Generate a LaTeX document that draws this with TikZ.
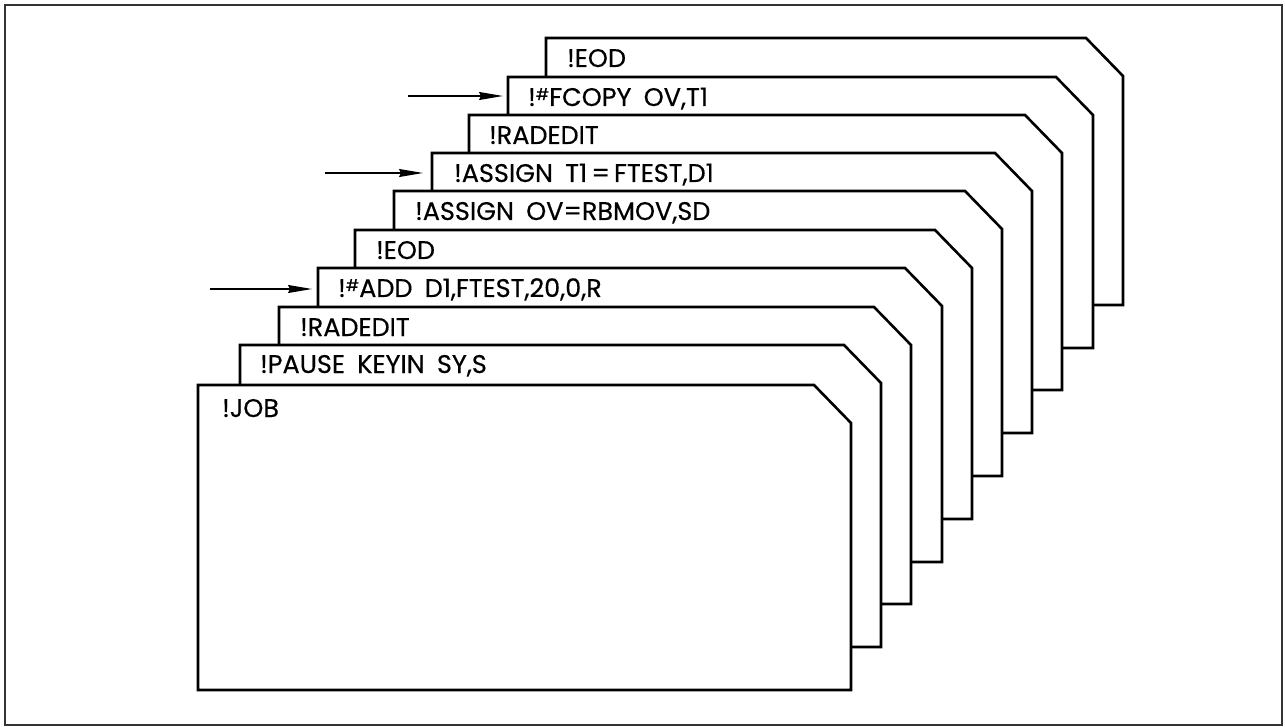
\documentclass[tikz,border=0pt]{standalone}
\usepackage{fontspec}
\setmainfont{Poppins}[WordSpace=1.8,FakeBold=0.4]
\usetikzlibrary{arrows.meta}
\newcommand\hashsup{\raisebox{6pt}{\fontsize{16}{16}\selectfont\#}}
\begin{document}
\begin{tikzpicture}[x=1pt,y=-1pt,
  card/.style={draw=black, fill=white, line width=2.6pt, line join=miter},
  frame/.style={draw=black!80, line width=1.5pt},
  lbl/.style={anchor=base west, inner sep=0pt, font=\fontsize{25.5}{25.5}\selectfont},
  arr/.style={-{Stealth[length=24pt,width=8pt,inset=2pt]}, line width=1.4pt}]
\useasboundingbox (0,0) rectangle (1285,727);
\draw[frame] (5,5) rectangle (1282,725);
\foreach \i/\l/\t/\r/\b/\dx/\dy/\txt in {
  9/546/38/1123/305/21/29/{!EOD},
  8/508/77/1093/348/20/29/{!\hashsup FCOPY OV,T1},
  7/469/115/1062/390/20/29/{!RADEDIT},
  6/432/153/1032/433/22/29/{!ASSIGN T1\,=\,FTEST,D1},
  5/394/191/1002/476/21/29/{!ASSIGN OV=RBMOV,SD},
  4/355/230/972/519/21/29/{!EOD},
  3/318/268/942/562/20/29/{!\hashsup ADD D1,FTEST,20,0,R},
  2/279/307/911/604/21/29/{!RADEDIT},
  1/240/345/881/647/20/28/{!PAUSE KEYIN SY,S},
  0/198/385/851/690/24/32/{!JOB}}{
  \draw[card] (\l,\b) -- (\l,\t) -- ({\r-37},\t) -- (\r,{\t+38}) -- (\r,\b) -- cycle;
  \node[lbl] (t\i) at ({\l+\dx},{\t+\dy}) {\txt};
}
\coordinate (a8) at (408,96);  \coordinate (p8) at (503,96);
\coordinate (a6) at (325,173); \coordinate (p6) at (423,173);
\coordinate (a3) at (210,289); \coordinate (p3) at (312,289);
\draw[arr] (a8) -- (p8);
\draw[arr] (a6) -- (p6);
\draw[arr] (a3) -- (p3);
\end{tikzpicture}
\end{document}
